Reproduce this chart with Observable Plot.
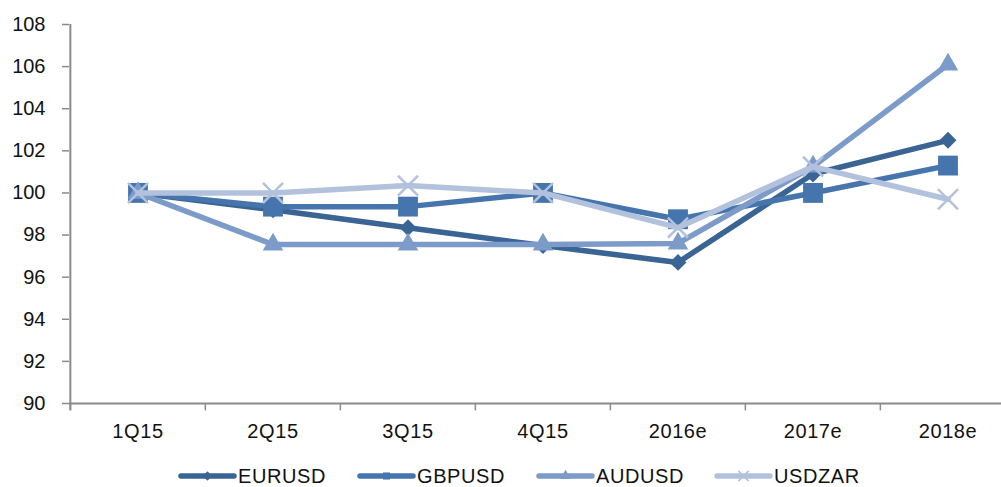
<!DOCTYPE html>
<html>
<head>
<meta charset="utf-8">
<script src="https://cdn.jsdelivr.net/npm/d3@7"></script>
<script src="https://cdn.jsdelivr.net/npm/@observablehq/plot@0.6"></script>
<style>
  html, body { margin: 0; padding: 0; background: #fff; }
  body { width: 1001px; height: 487px; overflow: hidden; position: relative; font-family: "Liberation Sans", Arial, sans-serif; }
  #legend { position: absolute; left: 0; top: 462px; width: 1001px; height: 28px; font-size: 20px; color: #111; }
  .item { display: flex; align-items: center; position: absolute; top: 0; height: 28px; letter-spacing: 0.6px; }
  .item svg { display: block; margin-right: 1px; }
  .xlab text { letter-spacing: 0.6px; }
</style>
</head>
<body>
<div id="chart"></div>
<div id="legend"></div>
<script>
const categories = ["1Q15", "2Q15", "3Q15", "4Q15", "2016e", "2017e", "2018e"];
const seriesNames = ["EURUSD", "GBPUSD", "AUDUSD", "USDZAR"];
const eurusd = [100, 99.2, 98.35, 97.5, 96.7, 100.9, 102.5];
const gbpusd = [100, 99.35, 99.35, 100, 98.75, 100, 101.3];
const audusd = [100, 97.55, 97.55, 97.55, 97.6, 101.25, 106.1];
const usdzar = [100, 100, 100.35, 100, 98.35, 101.25, 99.7];
const yTicks = [90, 92, 94, 96, 98, 100, 102, 104, 106, 108];

const seriesValues = [eurusd, gbpusd, audusd, usdzar];
const colors = ["#3a6494", "#4675ae", "#7c9bc9", "#b2c2dc"];
const symbols = ["diamond2", "square", "triangle", "times"];
const radii = [7.6, 11.2, 7.6, 9.2];

const series = seriesNames.map((name, i) => ({
  name,
  color: colors[i],
  symbol: symbols[i],
  r: radii[i],
  rows: categories.map((c, j) => ({cat: c, value: seriesValues[i][j]}))
}));

const xRange = [69, 1016];
const step = (xRange[1] - xRange[0]) / categories.length;
const axisColor = "#8a8a8a";

const marks = [
  Plot.ruleY([90], {stroke: axisColor, strokeWidth: 2}),
  Plot.ruleX([categories[0]], {x: d => d, dx: -step / 2, y1: 89.65, y2: 108, stroke: axisColor, strokeWidth: 2}),
  Plot.ruleX(categories, {x: d => d, dx: -step / 2, y1: 90, y2: 89.65, stroke: axisColor, strokeWidth: 1.5}),
  Plot.axisY({ticks: yTicks, label: null, tickSize: 7, tickPadding: 17, stroke: axisColor, strokeWidth: 1.5, fill: "#111", fontSize: 20, dy: 0}),
  Plot.axisX({label: null, tickSize: 0, tickPadding: 20, fill: "#111", fontSize: 20, className: "xlab"})
];

for (const s of series) {
  marks.push(Plot.line(s.rows, {x: "cat", y: "value", stroke: s.color, strokeWidth: 5.5, strokeLinejoin: "round", strokeLinecap: "round"}));
  if (s.symbol === "times") {
    marks.push(Plot.dot(s.rows, {x: "cat", y: "value", symbol: s.symbol, r: s.r, stroke: s.color, strokeWidth: 2.5}));
  } else {
    marks.push(Plot.dot(s.rows, {x: "cat", y: "value", symbol: s.symbol, r: s.r, fill: s.color, stroke: "none"}));
  }
}

const chart = Plot.plot({
  width: 1001,
  height: 460,
  marginLeft: 69,
  marginRight: 0,
  marginTop: 24,
  marginBottom: 57,
  style: {fontFamily: "'Liberation Sans', Arial, sans-serif", fontSize: "20px", color: "#111", background: "#fff", overflow: "visible"},
  x: {type: "band", domain: categories, range: xRange, padding: 0, axis: null},
  y: {domain: [90, 108], range: [403, 24], axis: null},
  marks
});
document.getElementById("chart").appendChild(chart);

// Legend
const legend = document.getElementById("legend");
const legendLeft = [178, 357, 536, 714];
const symbolPaths = {
  diamond2: d3.symbol(d3.symbolDiamond2, 60)(),
  square: d3.symbol(d3.symbolSquare, 50)(),
  triangle: d3.symbol(d3.symbolTriangle, 50)(),
  times: d3.symbol(d3.symbolTimes, 70)()
};
series.forEach((s, i) => {
  const item = document.createElement("div");
  item.className = "item";
  item.style.left = legendLeft[i] + "px";
  const sw = d3.create("svg").attr("width", 59).attr("height", 16);
  sw.append("line").attr("x1", 3).attr("x2", 56).attr("y1", 8).attr("y2", 8)
    .attr("stroke", s.color).attr("stroke-width", 5.5).attr("stroke-linecap", "round");
  const p = sw.append("path").attr("d", symbolPaths[s.symbol]).attr("transform", "translate(29.5,8)");
  if (s.symbol === "times") p.attr("fill", "none").attr("stroke", s.color).attr("stroke-width", 1.5);
  else p.attr("fill", s.color);
  item.appendChild(sw.node());
  const t = document.createElement("span");
  t.textContent = s.name;
  item.appendChild(t);
  legend.appendChild(item);
});
</script>
</body>
</html>
